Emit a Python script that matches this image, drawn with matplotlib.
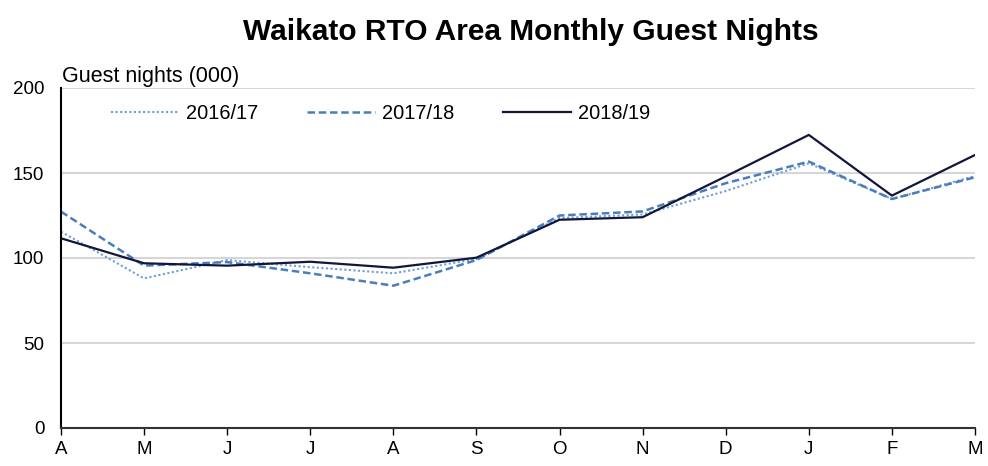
import numpy as np
import matplotlib.pyplot as plt

plt.rcParams['font.family'] = ['Liberation Sans', 'DejaVu Sans']

# 数据
months = ['A', 'M', 'J', 'J', 'A', 'S', 'O', 'N', 'D', 'J', 'F', 'M']
y2016 = [115.5, 88, 98.8, 94.6, 91, 99.4, 123.5, 125.6, 139.4, 155.7, 134.7, 148.2]
y2017 = [127.3, 95.5, 97.6, 91, 83.7, 98.8, 125, 127.4, 144, 156.7, 134.7, 147.5]
y2018 = [111.6, 96.9, 95.5, 97.8, 94.3, 100.2, 122.5, 124, 148, 172.4, 136.7, 160.6]

x = np.arange(len(months))

fig = plt.figure(figsize=(9.88, 4.66), dpi=100)
ax = fig.add_axes([61/988, 38/466, 914/988, 340/466])

ax.plot(x, y2016, color='#6A9FD8', linestyle=(0, (1, 1.2)), linewidth=1.5, label='2016/17')
ax.plot(x, y2017, color='#4A7EBB', linestyle=(0, (3, 1.5)), linewidth=1.8, label='2017/18')
ax.plot(x, y2018, color='#11163A', linestyle='-', linewidth=1.6, label='2018/19')

ax.set_xlim(0, 11)
ax.set_ylim(0, 200)
ax.set_yticks([0, 50, 100, 150, 200])
ax.set_xticks(x)
ax.set_xticklabels(months)
ax.tick_params(axis='y', length=0, labelsize=13.5, pad=12)
ax.tick_params(axis='x', length=5, width=1, direction='out', labelsize=13.5, pad=4)
ax.yaxis.grid(True, color='#D6D6D6', linewidth=1.5)
ax.set_axisbelow(True)
for s in ['top', 'right']:
    ax.spines[s].set_visible(False)
ax.spines['left'].set_linewidth(1.5)
ax.spines['bottom'].set_linewidth(1.5)
ax.spines['bottom'].set_color('#333333')

ax.text(0.001, 1.035, 'Guest nights (000)', transform=ax.transAxes, fontsize=15.5, va='center', ha='left')

ax.legend(loc='upper left', bbox_to_anchor=(0.037, 1.0), ncol=3, frameon=False,
          fontsize=14.4, handlelength=3.4, columnspacing=2.45, handletextpad=0.35,
          borderaxespad=0.4)

fig.text(0.537, 1 - 32/466, 'Waikato RTO Area Monthly Guest Nights', fontsize=21.5,
         fontweight='bold', ha='center', va='center')

plt.savefig('out.png', dpi=100)
